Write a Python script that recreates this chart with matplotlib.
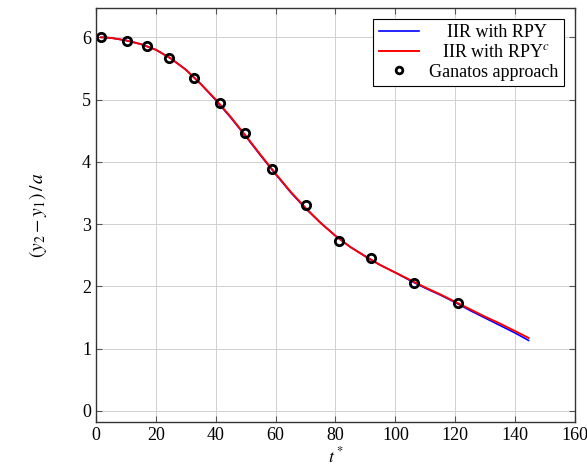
import matplotlib.pyplot as plt

plt.rcParams['font.family'] = ['Liberation Serif', 'DejaVu Serif']
plt.rcParams['mathtext.fontset'] = 'stix'

# curves
t_line = [1.7, 5, 10, 15, 20, 25, 30, 35, 40, 45, 50, 55, 60, 65, 70, 75, 80,
          85, 90, 95, 100, 105, 110, 115, 120, 125, 130, 135, 140, 144.5]
y_rpy = [6.00, 5.99, 5.95, 5.89, 5.80, 5.66, 5.48, 5.25, 4.99, 4.71, 4.41,
         4.10, 3.80, 3.51, 3.25, 3.02, 2.81, 2.63, 2.48, 2.34, 2.22, 2.09,
         1.97, 1.86, 1.74, 1.61, 1.49, 1.37, 1.25, 1.13]
y_rpyc = [6.00, 5.99, 5.95, 5.89, 5.80, 5.66, 5.48, 5.25, 5.00, 4.72, 4.42,
          4.11, 3.81, 3.52, 3.26, 3.02, 2.81, 2.63, 2.48, 2.34, 2.22, 2.10,
          1.98, 1.87, 1.75, 1.63, 1.51, 1.40, 1.28, 1.17]

# Ganatos approach points
t_gan = [1.7, 10.4, 17.1, 24.5, 32.9, 41.3, 49.7, 58.8, 70.3, 81.3, 91.8, 106.2, 121.0]
y_gan = [6.00, 5.94, 5.86, 5.67, 5.35, 4.94, 4.46, 3.88, 3.31, 2.73, 2.46, 2.05, 1.73]

fig = plt.figure(figsize=(5.87, 4.72), dpi=100)
ax = fig.add_axes([0.1635, 0.106, 0.816, 0.877])

ax.plot(t_line, y_rpy, color='blue', lw=1.2, label='    IIR with RPY')
ax.plot(t_line, y_rpyc, color='red', lw=1.4, label='   IIR with RPY$^c$')
ax.plot(t_gan, y_gan, 'o', ms=6, mfc='none', mec='black', mew=2,
        label='Ganatos approach')

ax.set_xlim(0, 160)
ax.set_ylim(-0.18, 6.47)
ax.set_xticks(range(0, 161, 20))
ax.set_yticks(range(0, 7))
ax.grid(True, color='#d0d0d0', lw=0.7)
ax.set_axisbelow(True)
ax.tick_params(direction='in', top=True, right=True, labelsize=13, length=4,
               color='#555555')
for s in ax.spines.values():
    s.set_linewidth(1.0)
    s.set_color('#333333')

ax.set_xlabel('$t^*$', fontsize=13, labelpad=2)
ax.set_ylabel('$(y_2 - y_1)\\,/\\,a$', fontsize=14, labelpad=24)

leg = ax.legend(loc='upper right', fontsize=13, frameon=True, fancybox=False,
                edgecolor='black', framealpha=1, borderpad=0.3,
                labelspacing=0.15, handlelength=2.2, handletextpad=0.6,
                markerscale=0.8, borderaxespad=0.6)
leg.get_frame().set_linewidth(0.8)

fig.savefig('out.png', dpi=100)
